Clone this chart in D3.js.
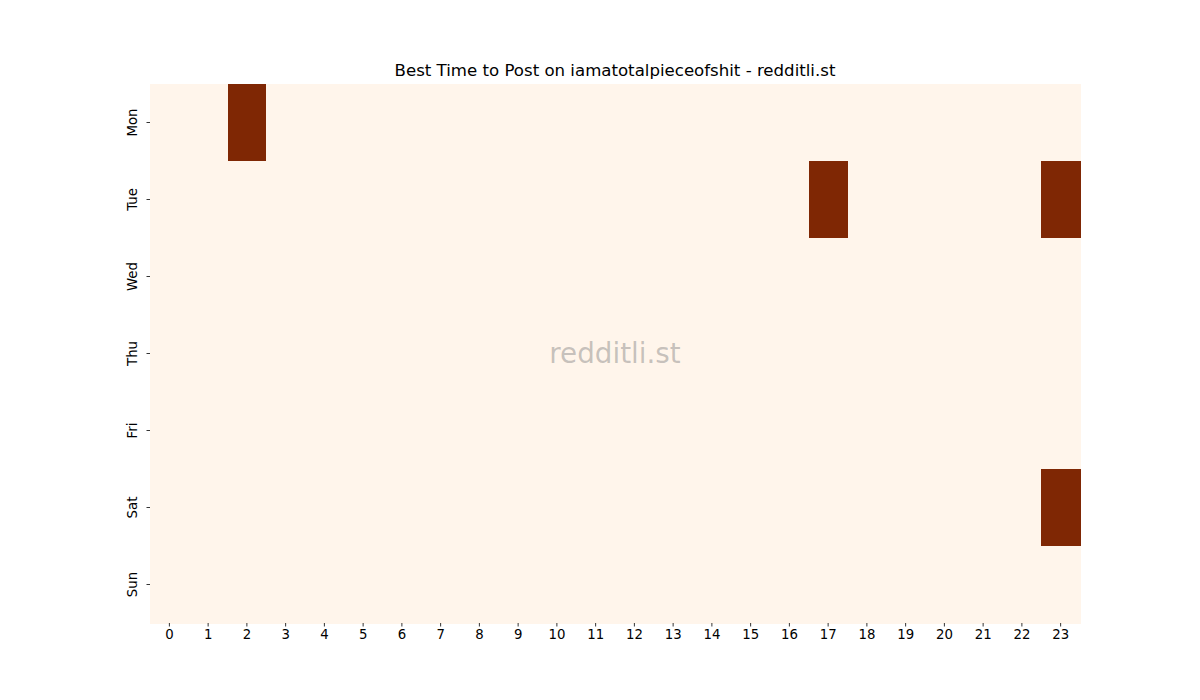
<!DOCTYPE html>
<html lang="en">
<head>
<meta charset="utf-8">
<title>Best Time to Post</title>
<script src="https://d3js.org/d3.v7.min.js"></script>
<style>
  body { margin: 0; background: #fff; }
  text { font-family: "DejaVu Sans", sans-serif; }
</style>
</head>
<body>
<div id="chart"></div>
<script>
var days = ["Mon", "Tue", "Wed", "Thu", "Fri", "Sat", "Sun"];
var hours = d3.range(24).map(String);
// posts per day (rows) and hour (columns)
var monValues = [0,0,1,0,0,0,0,0,0,0,0,0,0,0,0,0,0,0,0,0,0,0,0,0];
var tueValues = [0,0,0,0,0,0,0,0,0,0,0,0,0,0,0,0,0,1,0,0,0,0,0,1];
var wedValues = [0,0,0,0,0,0,0,0,0,0,0,0,0,0,0,0,0,0,0,0,0,0,0,0];
var thuValues = [0,0,0,0,0,0,0,0,0,0,0,0,0,0,0,0,0,0,0,0,0,0,0,0];
var friValues = [0,0,0,0,0,0,0,0,0,0,0,0,0,0,0,0,0,0,0,0,0,0,0,0];
var satValues = [0,0,0,0,0,0,0,0,0,0,0,0,0,0,0,0,0,0,0,0,0,0,0,1];
var sunValues = [0,0,0,0,0,0,0,0,0,0,0,0,0,0,0,0,0,0,0,0,0,0,0,0];
var values = [monValues, tueValues, wedValues, thuValues, friValues, satValues, sunValues];

var margin = { top: 84, right: 120, bottom: 77, left: 150 };
var width = 1200 - margin.left - margin.right;
var height = 700 - margin.top - margin.bottom;

var svg = d3.select("#chart")
    .append("svg")
    .attr("width", 1200)
    .attr("height", 700)
    .append("g")
    .attr("transform", "translate(" + margin.left + "," + margin.top + ")");

var x = d3.scaleBand().domain(hours).range([0, width]);
var y = d3.scaleBand().domain(days).range([0, height]);
var color = d3.scaleSequential(d3.interpolateOranges)
    .domain([0, d3.max(values, function(r) { return d3.max(r); })]);

var cells = [];
values.forEach(function(row, i) {
    row.forEach(function(v, j) {
        cells.push({ day: days[i], hour: hours[j], value: v });
    });
});

svg.append("g")
    .selectAll("rect")
    .data(cells)
    .enter()
    .append("rect")
    .attr("x", function(d) { return x(d.hour); })
    .attr("y", function(d) { return y(d.day); })
    .attr("width", x.bandwidth() + 0.5)
    .attr("height", y.bandwidth() + 0.5)
    .attr("shape-rendering", "crispEdges")
    .style("fill", function(d) { return color(d.value); });

// axes
var xAxis = svg.append("g")
    .attr("transform", "translate(0," + height + ")")
    .call(d3.axisBottom(x).tickSize(3.5).tickPadding(3.5));
xAxis.select(".domain").remove();
xAxis.selectAll("text").style("font-size", "13.3px").attr("fill", "#000");
xAxis.selectAll("line").attr("stroke", "#000").attr("stroke-width", 0.8);

var yAxis = svg.append("g")
    .call(d3.axisLeft(y).tickSize(3.5).tickPadding(3.5));
yAxis.select(".domain").remove();
yAxis.selectAll("line").attr("stroke", "#000").attr("stroke-width", 0.8);
yAxis.selectAll("text")
    .style("font-size", "13.3px")
    .attr("fill", "#000")
    .attr("x", null)
    .attr("dy", null)
    .attr("text-anchor", "middle")
    .attr("dominant-baseline", "auto")
    .attr("transform", "translate(-13,0) rotate(-90)");

// title
svg.append("text")
    .attr("x", width / 2)
    .attr("y", -8)
    .attr("text-anchor", "middle")
    .style("font-size", "16.6px")
    .attr("fill", "#000")
    .text("Best Time to Post on iamatotalpieceofshit - redditli.st");

// watermark
svg.append("text")
    .attr("x", width / 2)
    .attr("y", height / 2)
    .attr("text-anchor", "middle")
    .attr("dominant-baseline", "central")
    .style("font-size", "27.8px")
    .attr("fill", "#808080")
    .attr("fill-opacity", 0.45)
    .text("redditli.st");
</script>
</body>
</html>
